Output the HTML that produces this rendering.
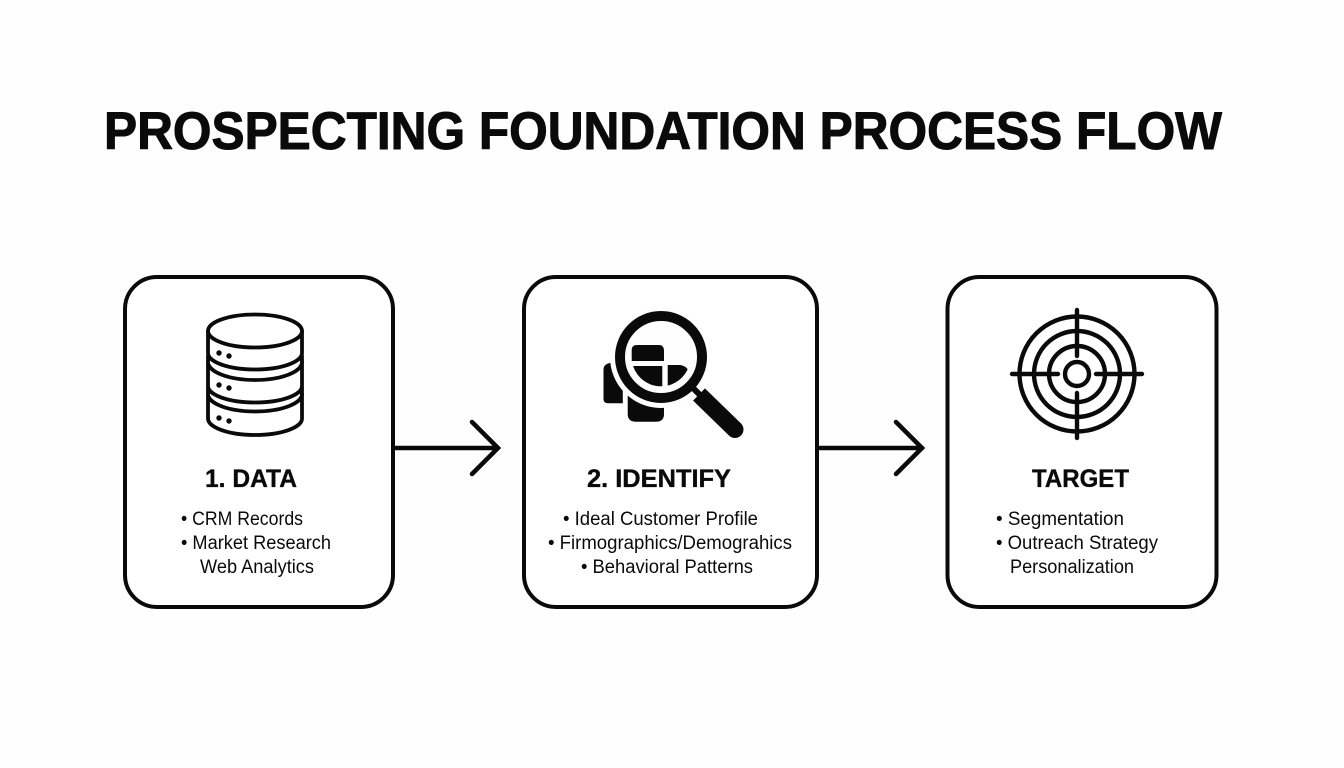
<!DOCTYPE html>
<html lang="en">
<head>
<meta charset="utf-8">
<title>Prospecting Foundation Process Flow</title>
<style>
html,body{margin:0;padding:0;background:#fefefe;width:1344px;height:768px;overflow:hidden}
svg{display:block}
text{font-family:"Liberation Sans",sans-serif;fill:#0a0a0a}
.t{font-size:53px;font-weight:700;stroke:#0a0a0a;stroke-width:1}
.h{font-size:25px;font-weight:700;stroke:#0a0a0a;stroke-width:.35}
.b{font-size:19px}
</style>
</head>
<body>
<svg width="1344" height="768" viewBox="0 0 1344 768" xmlns="http://www.w3.org/2000/svg">
<defs>
<clipPath id="lens"><circle cx="661" cy="357" r="29.3"/></clipPath>
<clipPath id="lensTop"><circle cx="661" cy="357" r="31"/></clipPath>
</defs>
<rect width="1344" height="768" fill="#fefefe"/>

<text class="t" x="104" y="149" textLength="1118" lengthAdjust="spacingAndGlyphs">PROSPECTING FOUNDATION PROCESS FLOW</text>

<g fill="#fff" stroke="#0a0a0a" stroke-width="4">
<rect x="125" y="277" width="268" height="330" rx="32"/>
<rect x="524" y="277" width="293" height="330" rx="32"/>
<rect x="947.5" y="277" width="269" height="330" rx="32"/>
</g>

<g fill="none" stroke="#0a0a0a" stroke-width="4.5" stroke-linecap="round" stroke-linejoin="miter">
<path d="M395 448H497"/>
<path d="M472 422L498 448L472 474"/>
<path d="M820 448H922"/>
<path d="M896 422L922 448L896 474"/>
</g>

<!-- database -->
<g fill="none" stroke="#0a0a0a" stroke-width="3.8" stroke-linecap="round">
<ellipse cx="255" cy="331" rx="47" ry="16.5"/>
<path d="M208 331V353A47 16.5 0 0 0 302 353V331"/>
<path d="M208 362A47 18 0 0 0 302 362"/>
<path d="M208 356V386A47 16.5 0 0 0 302 386V356"/>
<path d="M208 394A47 17.5 0 0 0 302 394"/>
<path d="M208 388V418.5A47 16.5 0 0 0 302 418.5V388"/>
</g>
<g fill="#0a0a0a">
<circle cx="219" cy="353" r="2.7"/><circle cx="229" cy="356" r="2.7"/>
<circle cx="219" cy="385" r="2.7"/><circle cx="229" cy="388" r="2.7"/>
<circle cx="219" cy="418" r="2.7"/><circle cx="229" cy="421" r="2.7"/>
</g>

<!-- magnifier -->
<g fill="#0a0a0a">
<path d="M603.5 370Q603.5 364 610 363L622.8 363V403.3H608Q603.5 403.3 603.5 399Z"/>
<path d="M627.7 385H664V414Q664 421.7 656 421.7H636Q627.7 421.7 627.7 414Z"/>
</g>
<circle cx="661" cy="357" r="51" fill="#fefefe"/>
<circle cx="661" cy="357" r="41" fill="#fefefe" stroke="#0a0a0a" stroke-width="10"/>
<g fill="#0a0a0a">
<path clip-path="url(#lensTop)" d="M631.7 350Q631.7 345 637 345H659Q664 345 664 351V361H631.7Z"/>
<path clip-path="url(#lens)" d="M630 366H662.3V395H630Z"/>
<path clip-path="url(#lens)" d="M667.7 365H680Q685 365 690 372V395H667.7Z"/>
</g>
<g stroke="#0a0a0a" fill="none">
<path d="M690 385L702 397" stroke-width="6"/>
<path d="M699 394.5L735 429.5" stroke-width="17"/>
</g>
<circle cx="735" cy="429.5" r="8.5" fill="#0a0a0a"/>

<!-- target -->
<g fill="none" stroke="#0a0a0a" stroke-width="4.4">
<circle cx="1077" cy="374" r="57.5"/>
<circle cx="1077" cy="374" r="43"/>
<circle cx="1077" cy="374" r="28"/>
<circle cx="1077" cy="374" r="12"/>
<path stroke-linecap="round" d="M1012 374H1058M1096 374H1142M1077 310V356M1077 393V438"/>
</g>

<!-- box 1 -->
<text class="h" x="205" y="487" textLength="92" lengthAdjust="spacingAndGlyphs">1. DATA</text>
<text class="b" x="181" y="525" textLength="122" lengthAdjust="spacingAndGlyphs">• CRM Records</text>
<text class="b" x="181" y="549" textLength="150" lengthAdjust="spacingAndGlyphs">• Market Research</text>
<text class="b" x="200" y="573" textLength="114" lengthAdjust="spacingAndGlyphs">Web Analytics</text>

<!-- box 2 -->
<text class="h" x="587" y="487" textLength="144" lengthAdjust="spacingAndGlyphs">2. IDENTIFY</text>
<text class="b" x="563" y="525" textLength="195" lengthAdjust="spacingAndGlyphs">• Ideal Customer Profile</text>
<text class="b" x="548" y="549" textLength="244" lengthAdjust="spacingAndGlyphs">• Firmographics/Demograhics</text>
<text class="b" x="581" y="573" textLength="172" lengthAdjust="spacingAndGlyphs">• Behavioral Patterns</text>

<!-- box 3 -->
<text class="h" x="1032" y="487" textLength="97" lengthAdjust="spacingAndGlyphs">TARGET</text>
<text class="b" x="996" y="525" textLength="128" lengthAdjust="spacingAndGlyphs">• Segmentation</text>
<text class="b" x="996" y="549" textLength="162" lengthAdjust="spacingAndGlyphs">• Outreach Strategy</text>
<text class="b" x="1010" y="573" textLength="124" lengthAdjust="spacingAndGlyphs">Personalization</text>
</svg>
</body>
</html>
